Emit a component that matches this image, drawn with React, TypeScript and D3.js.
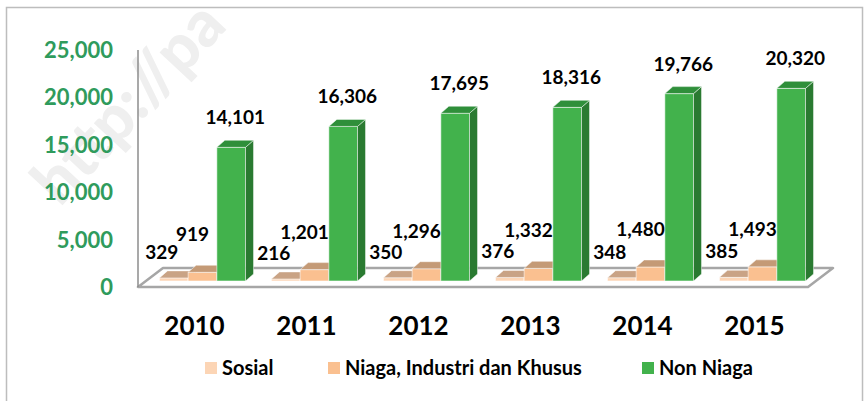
import React, { useEffect, useRef } from "react";
import * as d3 from "d3";

const years = ["2010", "2011", "2012", "2013", "2014", "2015"];
const seriesNames = ["Sosial", "Niaga, Industri dan Khusus", "Non Niaga"];
const sosial = [329, 216, 350, 376, 348, 385];
const niaga = [919, 1201, 1296, 1332, 1480, 1493];
const nonNiaga = [14101, 16306, 17695, 18316, 19766, 20320];
const yTicks = [0, 5000, 10000, 15000, 20000, 25000];

const W = 867;
const H = 401;
const FONT = "Lato, 'Open Sans', sans-serif";

// front / top / side face colours per series
const faces = [
  { front: "#FCD5B5", top: "#C9A385", side: "#D9B79A" },
  { front: "#FAC090", top: "#C49A76", side: "#D9A06F" },
  { front: "#42B24C", top: "#2F8F3A", side: "#2A7A31" },
];

const App = () => {
  const ref = useRef<SVGSVGElement | null>(null);

  useEffect(() => {
    const svg = d3.select(ref.current);
    svg.selectAll("*").remove();

    const values = [sosial, niaga, nonNiaga];

    const y = d3.scaleLinear().domain([0, 25000]).range([287, 50]);
    const x = d3
      .scaleBand<string>()
      .domain(years)
      .range([146.5, 818.5])
      .paddingInner(0.232)
      .paddingOuter(0.116);
    const xs = d3
      .scaleBand<string>()
      .domain(seriesNames)
      .range([0, x.bandwidth()]);

    // depth of the bars and the floor
    const bdx = 8;
    const bdy = -7;
    const baseShift = -6;
    const base = y(0) + baseShift;

    // frame
    svg
      .append("rect")
      .attr("x", 6.5)
      .attr("y", 7.5)
      .attr("width", 856)
      .attr("height", 402)
      .attr("fill", "#fff")
      .attr("stroke", "#BDBDBD")
      .attr("stroke-width", 1.5);

    // watermark
    svg
      .append("text")
      .attr("transform", "translate(60,208) rotate(-47)")
      .attr("font-family", FONT)
      .attr("font-weight", 900)
      .attr("font-size", 64)
      .attr("fill", "#EFEFEF")
      .text("http://pa");

    // floor
    const fl = 138;
    const fr = 808;
    const fdx = 25;
    const fdy = -19;
    svg
      .append("polygon")
      .attr(
        "points",
        [
          [fl, y(0)],
          [fr, y(0)],
          [fr + fdx, y(0) + fdy],
          [fl + fdx, y(0) + fdy],
        ]
          .map((p) => p.join(","))
          .join(" ")
      )
      .attr("fill", "#fff")
      .attr("stroke", "#A6A6A6")
      .attr("stroke-width", 2.5)
      .attr("stroke-linejoin", "round");

    // vertical axis line
    svg
      .append("line")
      .attr("x1", fl)
      .attr("x2", fl)
      .attr("y1", y(25000))
      .attr("y2", y(0))
      .attr("stroke", "#8C8C8C")
      .attr("stroke-width", 1.5);

    // y tick labels
    svg
      .append("g")
      .selectAll("text")
      .data(yTicks)
      .join("text")
      .attr("x", 113)
      .attr("y", (d) => y(d))
      .attr("dy", "0.36em")
      .attr("text-anchor", "end")
      .attr("font-family", FONT)
      .attr("font-weight", 700)
      .attr("font-size", 22)
      .attr("fill", "#2F9B5C")
      .text((d) => d3.format(",")(d));

    // bars
    const bars = svg.append("g");
    values.forEach((vals, si) => {
      const c = faces[si];
      vals.forEach((v, i) => {
        const x0 = (x(years[i]) as number) + (xs(seriesNames[si]) as number);
        const x1 = x0 + xs.bandwidth();
        const top = base - (y(0) - y(v));
        const g = bars.append("g");
        g.append("rect")
          .attr("x", x0)
          .attr("y", top)
          .attr("width", x1 - x0)
          .attr("height", base - top)
          .attr("fill", c.front)
          .attr("stroke", "#ffffff")
          .attr("stroke-opacity", 0.55)
          .attr("stroke-width", 1);
        g.append("polygon")
          .attr(
            "points",
            `${x1},${top} ${x1 + bdx},${top + bdy} ${x1 + bdx},${base + bdy} ${x1},${base}`
          )
          .attr("fill", c.side)
          .attr("stroke", "#ffffff")
          .attr("stroke-opacity", 0.45)
          .attr("stroke-width", 1);
        g.append("polygon")
          .attr(
            "points",
            `${x0},${top} ${x1},${top} ${x1 + bdx},${top + bdy} ${x0 + bdx},${top + bdy}`
          )
          .attr("fill", c.top)
          .attr("stroke", "#ffffff")
          .attr("stroke-opacity", 0.45)
          .attr("stroke-width", 1);
      });
    });

    // data labels
    const labelOffsets = [
      { dx: -12, dy: -19 },
      { dx: -10, dy: -31 },
      { dx: 4, dy: -23 },
    ];
    const labels = svg.append("g");
    values.forEach((vals, si) => {
      vals.forEach((v, i) => {
        const cx =
          (x(years[i]) as number) +
          (xs(seriesNames[si]) as number) +
          xs.bandwidth() / 2;
        const top = base - (y(0) - y(v));
        labels
          .append("text")
          .attr("x", cx + labelOffsets[si].dx)
          .attr("y", top + labelOffsets[si].dy)
          .attr("text-anchor", "middle")
          .attr("font-family", FONT)
          .attr("font-weight", 700)
          .attr("font-size", 19)
          .attr("fill", "#000")
          .text(d3.format(",")(v));
      });
    });

    // category labels
    svg
      .append("g")
      .selectAll("text")
      .data(years)
      .join("text")
      .attr("x", (d) => (x(d) as number) + x.bandwidth() / 2 - 8)
      .attr("y", 335)
      .attr("text-anchor", "middle")
      .attr("font-family", FONT)
      .attr("font-weight", 700)
      .attr("font-size", 26)
      .attr("fill", "#000")
      .text((d) => d);

    // legend
    const legendX = [205, 328, 642];
    const lg = svg.append("g");
    seriesNames.forEach((name, si) => {
      lg.append("rect")
        .attr("x", legendX[si])
        .attr("y", 362)
        .attr("width", 12)
        .attr("height", 12)
        .attr("fill", faces[si].front);
      lg.append("text")
        .attr("x", legendX[si] + 17)
        .attr("y", 375)
        .attr("font-family", FONT)
        .attr("font-weight", 700)
        .attr("font-size", 20)
        .attr("fill", "#000")
        .text(name);
    });
  }, []);

  return (
    <div style={{ position: "absolute", left: 0, top: 0 }}>
      <svg ref={ref} width={W} height={H} style={{ display: "block" }}></svg>
    </div>
  );
};

export default App;
